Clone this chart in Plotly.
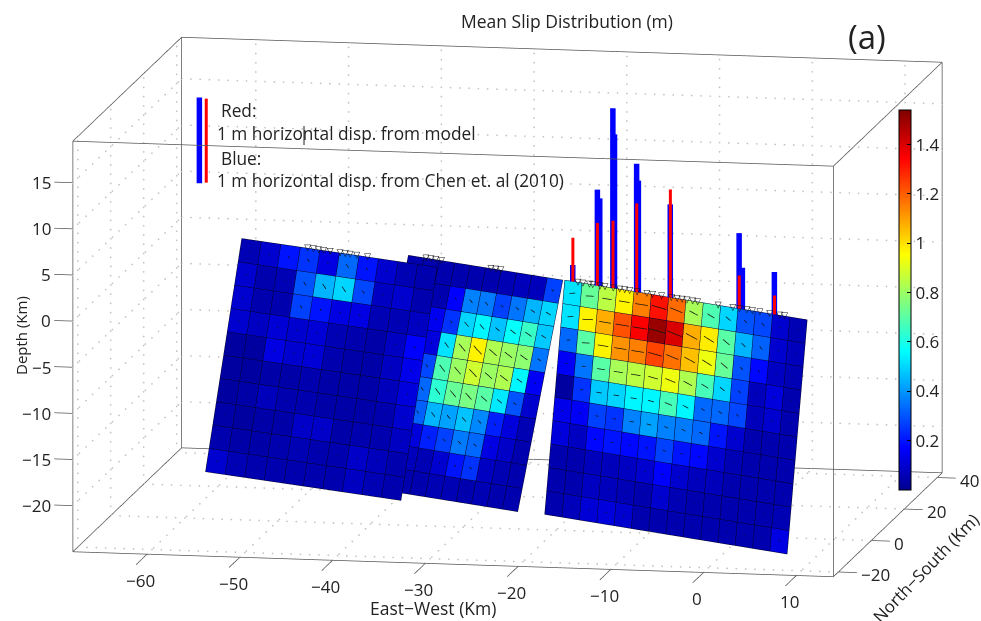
import math
import numpy as np
import plotly.graph_objects as go

BOX_X = [-68, 14]
BOX_Y = [-23, 43]
BOX_Z = [-25, 19.5]
SCENE_X = [-72, 18]
SCENE_Y = [-33, 53]
SCENE_Z = [-32, 26.5]
X_TICKS = [-60, -50, -40, -30, -20, -10, 0, 10]
Y_TICKS = [-20, 0, 20, 40]
Z_TICKS = [-20, -15, -10, -5, 0, 5, 10, 15]
CB_TICKS = [0.2, 0.4, 0.6, 0.8, 1, 1.2, 1.4]
SLIP_MAX = 1.54

# panel corners in km: top-left, top-right, bottom-left, bottom-right
PANEL1_CORNERS = [(-59.4, 31.1, 0), (-35.9, 17.4, 0), (-62.4, 26.0, -24.5), (-38.9, 12.3, -24.5)]
PANEL2_CORNERS = [(-40.2, 24.15, 0), (-21.4, 12.03, 0), (-44.0, 18.2, -24.2), (-25.2, 6.07, -24.2)]
PANEL3_CORNERS = [(-21.2, 12.07, 0), (8.4, -7.4, 0), (-22.9, 9.5, -25), (6.7, -10.0, -25)]

SLIP1 = [
    [.06, .10, .20, .25, .13, .33, .20, .10, .06, .05],
    [.10, .05, .06, .30, .45, .50, .28, .08, .10, .05],
    [.10, .05, .05, .27, .20, .13, .13, .06, .06, .08],
    [.10, .08, .11, .10, .11, .06, .05, .04, .08, .17],
    [.03, .03, .13, .10, .11, .05, .04, .04, .08, .14],
    [.03, .03, .04, .04, .05, .04, .04, .04, .07, .12],
    [.03, .04, .07, .05, .05, .04, .04, .04, .05, .10],
    [.04, .03, .04, .04, .09, .09, .04, .05, .05, .08],
    [.05, .04, .04, .05, .06, .05, .05, .09, .07, .05],
    [.10, .06, .05, .05, .05, .05, .05, .08, .06, .05],
]
SLIP2 = [
    [.05, .05, .05, .05, .05, .05, .06, .07, .07, .27],
    [.05, .05, .05, .17, .37, .36, .27, .35, .45, .50],
    [.05, .05, .15, .25, .50, .55, .47, .57, .65, .48],
    [.05, .05, .12, .52, .82, .97, .83, .80, .78, .35],
    [.05, .05, .28, .68, .80, .88, .80, .83, .55, .16],
    [.05, .05, .33, .63, .72, .75, .70, .53, .30, .10],
    [.05, .05, .32, .45, .42, .47, .38, .22, .12, .06],
    [.05, .05, .12, .22, .27, .36, .33, .13, .09, .05],
    [.05, .05, .07, .06, .10, .20, .25, .08, .06, .05],
    [.05, .05, .05, .05, .06, .06, .05, .06, .05, .05],
]
SLIP3 = [
    [.52, .72, .85, .97, 1.15, 1.32, 1.18, .82, .68, .50, .30, .28, .10, .06],
    [.52, .97, 1.08, 1.22, 1.35, 1.50, 1.40, 1.08, .98, .70, .45, .32, .10, .07],
    [.33, .70, .97, 1.12, 1.15, 1.24, 1.17, 1.05, .93, .72, .30, .18, .08, .06],
    [.16, .35, .70, .82, .85, .88, .93, .83, .67, .50, .27, .07, .12, .05],
    [.03, .25, .48, .50, .55, .55, .67, .55, .33, .33, .28, .07, .10, .05],
    [.14, .16, .27, .25, .37, .42, .37, .36, .33, .20, .10, .05, .05, .05],
    [.12, .08, .18, .20, .18, .20, .27, .20, .18, .10, .06, .05, .05, .05],
    [.05, .05, .07, .07, .08, .10, .17, .10, .07, .07, .05, .05, .05, .05],
    [.05, .05, .08, .07, .06, .05, .10, .06, .05, .05, .05, .05, .05, .06],
    [.05, .07, .11, .12, .10, .05, .05, .05, .05, .05, .05, .05, .05, .13],
]
RAKE1 = [42, 42, 42, 42, 40, 40, 38, 35, 30, 25]
RAKE2 = [40, 40, 38, 35, 32, 30, 25, 22, 20, 18]
RAKE3 = [-9, -5, 0, 0, 0, 5, 10, 15, 18, 25, 30, 35, 35, 35]

TRACE_X = [-59.4, -35.9, -40.2, -21.3, 8.4]
TRACE_Y = [31.1, 17.4, 24.15, 12.05, -7.4]

STATIONS_X_WEST = [-51.5, -50.8, -50.2, -49.6, -48.8, -47.6, -47.0, -46.4, -45.6, -44.3]
STATIONS_X_MID = [-38.1, -37.5, -36.9, -36.2, -30.2, -29.6, -29.0]
STATIONS_X_EAST = [-19.6, -19.0, -18.2, -17.8, -16.9, -16.3, -15.3, -14.5, -13.9, -13.3, -12.4,
                   -11.2, -10.5, -9.4, -8.2, -7.5, -6.9, -6.3, -5.6, -5.0, -2.5, -0.7, 0.1, 1.0,
                   1.7, 2.6, 3.8, 5.0, 5.6]

BLUE_X = [-20.2, -17.2, -16.9, -15.3, -15.1, -12.4, -12.2, -8.3, 0.1, 0.5, 4.4]
BLUE_H = [1.8, 10.4, 9.5, 19.5, 16.7, 13.9, 12.1, 10.1, 8.2, 4.5, 4.6]
RED_X = [-20.2, -17.2, -15.3, -12.4, -8.3, 0.1, 4.4]
RED_H = [4.75, 6.8, 7.3, 9.6, 11.7, 3.6, 2.05]

JET = [[0, 'rgb(0,0,143)'], [.111, 'rgb(0,0,255)'], [.365, 'rgb(0,255,255)'],
       [.619, 'rgb(255,255,0)'], [.873, 'rgb(255,0,0)'], [1, 'rgb(128,0,0)']]

FONT = "Open Sans"
TXT = "#222"
VIEW = np.array([0.18, -0.968, 0.177])  # unit vector towards the camera


def corner(c, u, v):
    tl, tr, bl, br = [np.array(p, float) for p in c]
    return (1 - v) * ((1 - u) * tl + u * tr) + v * ((1 - u) * bl + u * br)


def panel(corners, slip, rake, show_cb=False):
    slip = np.array(slip)
    nr, nc = slip.shape
    vx, vy, vz, I, J, K, val = [], [], [], [], [], [], []
    for r in range(nr):
        for c in range(nc):
            n = len(vx)
            for (a, b) in [(c, r), (c + 1, r), (c + 1, r + 1), (c, r + 1)]:
                p = corner(corners, a / nc, b / nr)
                vx.append(p[0]); vy.append(p[1]); vz.append(p[2])
            I += [n, n]; J += [n + 1, n + 2]; K += [n + 2, n + 3]
            val += [slip[r, c], slip[r, c]]
    mesh = go.Mesh3d(x=vx, y=vy, z=vz, i=I, j=J, k=K, intensity=val, intensitymode="cell",
                     colorscale=JET, cmin=0, cmax=SLIP_MAX, flatshading=True,
                     lighting=dict(ambient=1, diffuse=0, specular=0, roughness=1, fresnel=0),
                     showscale=show_cb, hoverinfo="skip",
                     colorbar=dict(x=899 / 981, xanchor="left", xpad=0, y=1 - 300 / 621, yanchor="middle",
                                   len=380 / 621, lenmode="fraction", thickness=12, ypad=0,
                                   tickvals=CB_TICKS, ticks="inside", ticklen=4, tickcolor="#000",
                                   outlinecolor="#000", outlinewidth=1,
                                   tickfont=dict(family=FONT, size=17, color=TXT)))
    towards = VIEW * 0.15
    lx, ly, lz = [], [], []
    for r in range(nr + 1):
        for t in (0, 1):
            p = corner(corners, t, r / nr) + towards
            lx.append(p[0]); ly.append(p[1]); lz.append(p[2])
        lx.append(None); ly.append(None); lz.append(None)
    for c in range(nc + 1):
        for t in (0, 1):
            p = corner(corners, c / nc, t) + towards
            lx.append(p[0]); ly.append(p[1]); lz.append(p[2])
        lx.append(None); ly.append(None); lz.append(None)
    grid = go.Scatter3d(x=lx, y=ly, z=lz, mode="lines", line=dict(color="#00002a", width=1),
                        hoverinfo="skip", showlegend=False)
    tl, tr, bl, br = [np.array(p, float) for p in corners]
    ea = (tr - tl) / np.linalg.norm(tr - tl)
    eb = (bl - tl) / np.linalg.norm(bl - tl)
    qx, qy, qz = [], [], []
    for r in range(nr):
        for c in range(nc):
            mid = corner(corners, (c + .5) / nc, (r + .5) / nr) + towards * 2
            ang = math.radians(rake[c])
            d = (math.cos(ang) * ea + math.sin(ang) * eb) * slip[r, c] * 1.6
            p0, p1 = mid - d / 2, mid + d / 2
            qx += [p0[0], p1[0], None]; qy += [p0[1], p1[1], None]; qz += [p0[2], p1[2], None]
    quiver = go.Scatter3d(x=qx, y=qy, z=qz, mode="lines", line=dict(color="#111", width=1.5),
                          hoverinfo="skip", showlegend=False)
    return [mesh, grid, quiver]


def trace_y(xs, seg):
    a, b = seg
    return np.interp(xs, sorted(TRACE_X[a:b]), [TRACE_Y[a:b][i] for i in np.argsort(TRACE_X[a:b])])


def bars(xs, hs, color, width, depth=0.0):
    ys = trace_y(xs, (3, 5))
    off = VIEW * depth
    bx, by, bz = [], [], []
    for x, y, h in zip(xs, ys, hs):
        bx += [x + off[0], x + off[0], None]; by += [y + off[1], y + off[1], None]; bz += [off[2], h + off[2], None]
    return go.Scatter3d(x=bx, y=by, z=bz, mode="lines", line=dict(color=color, width=width),
                        hoverinfo="skip", showlegend=False)


fig = go.Figure()
x0, x1 = BOX_X; y0, y1 = BOX_Y; z0, z1 = BOX_Z

# dotted wall and floor grid: one small dot every few pixels along each grid line
dx_pts = np.arange(x0, x1 + 0.01, 1.0)
dy_pts = np.arange(y0, y1 + 0.01, 4.0)
dz_pts = np.arange(z0, z1 + 0.01, 1.0)
gx, gy, gz = [], [], []
for z in Z_TICKS:
    gx += list(dx_pts); gy += [y1] * len(dx_pts); gz += [z] * len(dx_pts)
    gx += [x0] * len(dy_pts); gy += list(dy_pts); gz += [z] * len(dy_pts)
for x in X_TICKS:
    gx += [x] * len(dz_pts); gy += [y1] * len(dz_pts); gz += list(dz_pts)
    gx += [x] * len(dy_pts); gy += list(dy_pts); gz += [z0] * len(dy_pts)
for y in Y_TICKS:
    gx += [x0] * len(dz_pts); gy += [y] * len(dz_pts); gz += list(dz_pts)
    gx += list(dx_pts); gy += [y] * len(dx_pts); gz += [z0] * len(dx_pts)
fig.add_trace(go.Scatter3d(x=gx, y=gy, z=gz, mode="markers",
                           marker=dict(color="#c2c2c2", size=1, line=dict(width=0)),
                           hoverinfo="skip", showlegend=False))

# bounding box and tick marks
bx, by, bz = [], [], []
for y, z in [(y0, z0), (y1, z0), (y0, z1), (y1, z1)]:
    bx += [x0, x1, None]; by += [y, y, None]; bz += [z, z, None]
for x, z in [(x0, z0), (x1, z0), (x0, z1), (x1, z1)]:
    bx += [x, x, None]; by += [y0, y1, None]; bz += [z, z, None]
for x, y in [(x0, y0), (x1, y0), (x0, y1), (x1, y1)]:
    bx += [x, x, None]; by += [y, y, None]; bz += [z0, z1, None]
TICK_X = 6.6
TICK_S = 2.0
for x in X_TICKS:
    bx += [x, x, None]; by += [y0, y0 - TICK_X, None]; bz += [z0, z0, None]
for y in Y_TICKS:
    bx += [x1, x1 + TICK_S, None]; by += [y, y, None]; bz += [z0, z0, None]
for z in Z_TICKS:
    bx += [x0, x0 - TICK_S, None]; by += [y0, y0, None]; bz += [z, z, None]
fig.add_trace(go.Scatter3d(x=bx, y=by, z=bz, mode="lines", line=dict(color="#555", width=1.5),
                           hoverinfo="skip", showlegend=False))

for t in panel(PANEL1_CORNERS, SLIP1, RAKE1, True) + panel(PANEL2_CORNERS, SLIP2, RAKE2) + panel(PANEL3_CORNERS, SLIP3, RAKE3):
    fig.add_trace(t)

fig.add_trace(bars(BLUE_X, BLUE_H, "#0000ff", 11))
fig.add_trace(bars(RED_X, RED_H, "#ff0000", 6, depth=1.0))

sx = np.array(STATIONS_X_WEST + STATIONS_X_MID + STATIONS_X_EAST)
sy = np.concatenate([trace_y(STATIONS_X_WEST, (0, 2)), trace_y(STATIONS_X_MID, (2, 4)), trace_y(STATIONS_X_EAST, (3, 5))])
s_off = VIEW * 3.0
fig.add_trace(go.Scatter3d(x=sx + s_off[0], y=sy + s_off[1], z=np.full(len(sx), 0.0) + s_off[2], mode="text",
                           text=["▽"] * len(sx), textposition="middle center",
                           textfont=dict(family="DejaVu Sans", size=9, color="#111"), hoverinfo="skip", showlegend=False))

# legend bars
fig.add_trace(go.Scatter3d(x=[-62, -62], y=[20, 20], z=[7.8, 17.1], mode="lines",
                           line=dict(color="#0000ff", width=11), hoverinfo="skip", showlegend=False))
fig.add_trace(go.Scatter3d(x=[-61.25, -61.25], y=[20, 20], z=[7.9, 17.0], mode="lines",
                           line=dict(color="#ff0000", width=6), hoverinfo="skip", showlegend=False))


def ax(rng):
    return dict(range=rng, autorange=False, showgrid=False, zeroline=False, showbackground=False, showspikes=False,
                showline=False, ticks="", showticklabels=False, title=dict(text=""))


def lab(v):
    return str(v).replace("-", "−")


SA = []
for x in X_TICKS:
    SA.append(dict(x=x, y=y0 - TICK_X, z=z0, text=lab(x), showarrow=False, xanchor="center", yanchor="top", yshift=-2, xshift=4,
                   font=dict(family=FONT, size=17, color=TXT)))
for y in Y_TICKS:
    SA.append(dict(x=x1 + TICK_S, y=y, z=z0, text=lab(y), showarrow=False, xanchor="left", xshift=2, yshift=-2,
                   font=dict(family=FONT, size=17, color=TXT)))
for z in Z_TICKS:
    SA.append(dict(x=x0 - TICK_S, y=y0, z=z, text=lab(z), showarrow=False, xanchor="right", xshift=-2,
                   font=dict(family=FONT, size=17, color=TXT)))

a = math.radians(10.5); el = math.radians(10.2)
D = 3.0
ZOOM = 2.536


def note(text, px, py, size, xanchor="center", angle=0):
    return dict(text=text, x=px / 981, y=1 - py / 621, xref="paper", yref="paper", showarrow=False, xanchor=xanchor,
                yanchor="middle", textangle=angle, font=dict(family=FONT, size=size, color=TXT))


fig.update_layout(
    width=981, height=621, margin=dict(l=0, r=0, t=0, b=0), paper_bgcolor="white", showlegend=False,
    scene=dict(
        domain=dict(x=[0.035, 1.0], y=[0.014, 0.996]),
        xaxis=ax(SCENE_X), yaxis=ax(SCENE_Y), zaxis=ax(SCENE_Z),
        aspectmode="manual", aspectratio=dict(x=1.0976 * ZOOM, y=1.0054 * ZOOM, z=0.709 * ZOOM),
        annotations=SA,
        camera=dict(projection=dict(type="orthographic"), up=dict(x=0, y=0, z=1), center=dict(x=0, y=0, z=0),
                    eye=dict(x=D * math.sin(a) * math.cos(el), y=-D * math.cos(a) * math.cos(el), z=D * math.sin(el))),
    ),
    annotations=[
        note("Mean Slip Distribution (m)", 567, 21, 17.5),
        note("(a)", 867, 36, 33),
        note("Red:", 219, 110, 17.3, "left"),
        note("1 m horizontal disp. from model", 215, 133, 17.3, "left"),
        note("Blue:", 219, 158, 17.3, "left"),
        note("1 m horizontal disp. from Chen et. al (2010)", 215, 181, 17.3, "left"),
        note("East−West (Km)", 433, 608, 17.5),
        note("Depth (Km)", 21, 336, 15, angle=-90),
        note("North−South (Km)", 925, 568, 17, angle=-46),
    ],
    shapes=[dict(type="line", xref="paper", yref="paper", x0=304 / 981, x1=304 / 981, y0=1 - 126 / 621, y1=1 - 145 / 621,
                 line=dict(color="#222", width=1))],
)
fig.write_html("out.html", config=dict(displayModeBar=False),
               post_script="document.body.style.margin='0';document.documentElement.style.overflow='hidden';")
